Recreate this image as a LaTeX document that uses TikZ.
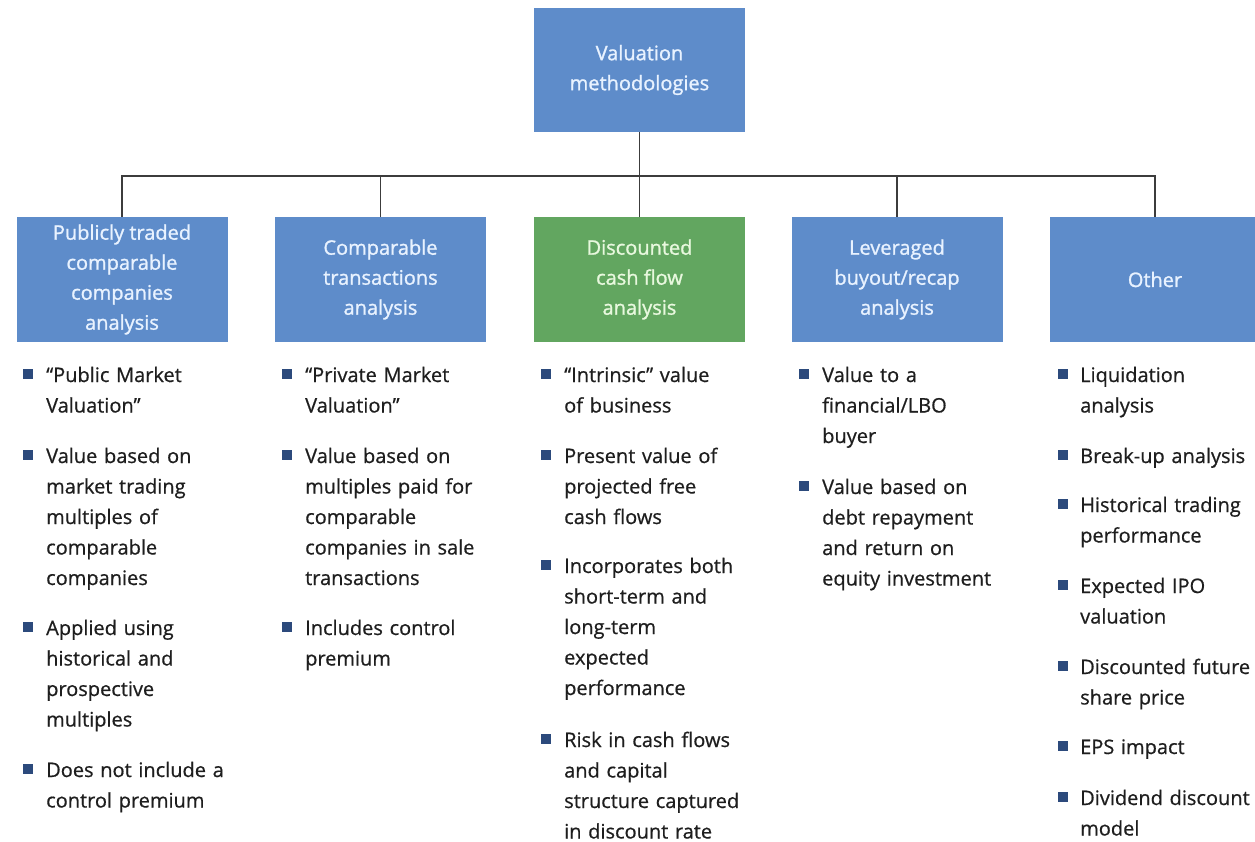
\documentclass[tikz,border=0pt]{standalone}
\usepackage{fontspec}
\setmainfont{Open Sans}[FakeBold=0.6]
\newfontfamily\boxfont{Open Sans}[FakeBold=1.2]
\definecolor{boxblue}{RGB}{94,140,202}
\definecolor{boxgreen}{RGB}{98,166,96}
\definecolor{txtblue}{RGB}{232,242,255}
\definecolor{txtgreen}{RGB}{232,248,222}
\definecolor{bulletc}{RGB}{44,74,124}
\definecolor{bodytxt}{RGB}{30,30,30}
\definecolor{linec}{RGB}{60,60,60}
\begin{document}
\begin{tikzpicture}[x=1pt,y=-1pt,
  hbox/.style={rectangle, fill=boxblue, text=txtblue, minimum width=211pt, minimum height=124pt,
    inner sep=0pt, align=center, font=\boxfont\fontsize{20}{30}\selectfont},
  gbox/.style={hbox, fill=boxgreen, text=txtgreen},
  item/.style={anchor=base west, inner sep=0pt, text width=200pt, align=left, text=bodytxt,
    font=\fontsize{20}{30.5}\selectfont},
  sq/.style={rectangle, fill=bulletc, minimum size=10.5pt, inner sep=0pt},
  conn/.style={draw=linec, line width=1.8pt}]
\useasboundingbox (0,0) rectangle (1255,842);
\fill[white] (0,0) rectangle (1255,842);
% header boxes
\node[hbox] (top) at (639.5,70) {Valuation\\methodologies};
\node[hbox] (c1) at (122,279.5) {Publicly traded\\comparable\\companies\\analysis};
\node[hbox] (c2) at (380.5,279.5) {Comparable\\transactions\\analysis};
\node[gbox] (c3) at (639.5,279.5) {Discounted\\cash flow\\analysis};
\node[hbox] (c4) at (897,279.5) {Leveraged\\buyout/recap\\analysis};
\node[hbox] (c5) at (1155,279.5) {Other};
% connectors
\coordinate (bus) at (639.5,176);
\draw[conn] (top.south) -- (bus);
\foreach \c in {c1,c2,c3,c4,c5} \draw[conn] (bus) -| (\c.north);
% column 1
\node[item] (a1) at (46,382) {“Public Market\\Valuation”};
\node[item] (a2) at (46,463) {Value based on\\market trading\\multiples of\\comparable\\companies};
\node[item] (a3) at (46,635) {Applied using\\historical and\\prospective\\multiples};
\node[item] (a4) at (46,777) {Does not include a\\control premium};
% column 2
\node[item] (b1) at (305,382) {“Private Market\\Valuation”};
\node[item] (b2) at (305,463) {Value based on\\multiples paid for\\comparable\\companies in sale\\transactions};
\node[item] (b3) at (305,635) {Includes control\\premium};
% column 3
\node[item] (d1) at (564,382) {“Intrinsic” value\\of business};
\node[item] (d2) at (564,463) {Present value of\\projected free\\cash flows};
\node[item] (d3) at (564,573) {Incorporates both\\short-term and\\long-term\\expected\\performance};
\node[item] (d4) at (564,747) {Risk in cash flows\\and capital\\structure captured\\in discount rate};
% column 4
\node[item] (e1) at (822,382) {Value to a\\financial/LBO\\buyer};
\node[item] (e2) at (822,494) {Value based on\\debt repayment\\and return on\\equity investment};
% column 5
\node[item] (f1) at (1080,382) {Liquidation\\analysis};
\node[item] (f2) at (1080,463) {Break-up analysis};
\node[item] (f3) at (1080,512) {Historical trading\\performance};
\node[item] (f4) at (1080,593) {Expected IPO\\valuation};
\node[item] (f5) at (1080,674) {Discounted future\\share price};
\node[item] (f6) at (1080,754) {EPS impact};
\node[item] (f7) at (1080,805) {Dividend discount\\model};
% bullets
\foreach \n/\x in {a1/28,a2/28,a3/28,a4/28,b1/287,b2/287,b3/287,d1/546,d2/546,d3/546,d4/546,e1/804,e2/804,f1/1063,f2/1063,f3/1063,f4/1063,f5/1063,f6/1063,f7/1063}
  \node[sq] at ([yshift=8pt]\n.base west -| \x,0) {};
\end{tikzpicture}
\end{document}
